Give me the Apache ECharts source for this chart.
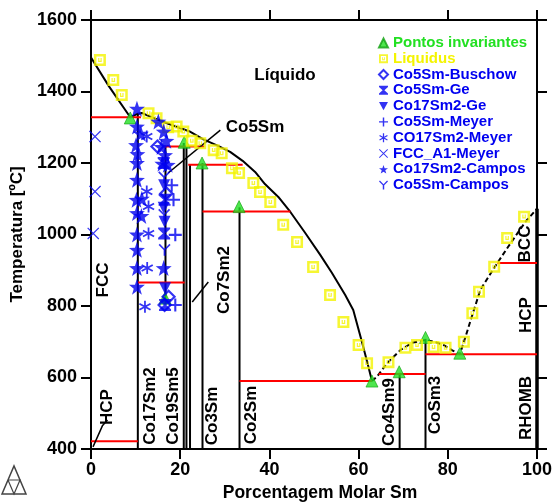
<!DOCTYPE html>
<html><head><meta charset="utf-8">
<script src="https://cdn.jsdelivr.net/npm/echarts@6/dist/echarts.min.js"></script>
<style>html,body{margin:0;padding:0;background:#fff}#c{width:555px;height:503px}</style>
</head><body><div id="c"></div>
<script>
// ---- axis ticks ----
const xTicks = [0, 20, 40, 60, 80, 100];
const yTicks = [400, 600, 800, 1000, 1200, 1400, 1600];

// ---- calculated liquidus (Co side solid, Sm side dashed) ----
const liquidusCo = [[0,1495],[4,1415],[8.8,1328],[10.5,1338],[11.4,1340],[13,1331],[16,1316],[19,1302],[22,1289],[25.2,1266],[28.5,1248],[31.2,1231],[34,1206],[36.8,1175],[39,1141],[42,1105],[44.7,1063],[48,1005],[51.4,943],[54,893],[57,831],[58.8,789],[60.8,697],[62,640],[63,590]];
const liquidusSm = [[63,590],[64.1,602],[66.4,640],[69.4,677],[72,697],[75,705],[77,700],[79,691],[81,676],[82.7,665],[84,715],[85.5,775],[87.3,845],[89.3,885],[91.1,920],[93.5,965],[95.6,1003],[97.5,1037],[100,1072]];

// ---- compound lines: [x, Tlow, Thigh] ----
const compoundLines = [[10.5,400,1338],[16.7,805,1246],[20.8,400,1256],[21.4,400,1246],[22.2,400,1195],[25,400,1200],[33.3,400,1076],[69.2,400,613],[75,400,708]];
const smLine = [100, 400, 1072];
// ---- invariant reactions: [T, x1, x2] ----
const invariantLines = [[1328,0,11.2],[1246,16.5,25.4],[1195,21.8,34],[866,10.5,21],[1064,25,44.7],[422,0,10.5],[590,33.3,63],[610,64.5,75],[665,75,100],[920,91.1,100]];
// ---- label leader lines ----
const leaderCo5Sm = [[17.3,1172],[29.0,1292]];
const leaderCo7Sm2 = [[22.7,811],[26.3,867]];
const leaderHCP = [[0.45,406],[2.6,466],[3.7,481]];

// ---- experimental / invariant points ----
const invariantPoints = [[16.6,822],[8.8,1326],[20.9,1258],[24.9,1200],[33.2,1078],[63,590],[69.1,616],[75,712],[82.7,668]];
const liquidusPoints = [[2.0,1488],[5.0,1432],[6.9,1390],[12.9,1339],[14.7,1325],[17.3,1300],[19.2,1302],[20.7,1288],[22.6,1262],[24.5,1255],[27.5,1236],[29.3,1227],[31.6,1185],[33.2,1172],[36.4,1144],[37.9,1119],[40.2,1091],[43.1,1027],[46.2,979],[49.8,909],[53.6,831],[56.6,755],[60,691],[61.9,640],[66.7,643],[70.5,683],[73.1,691],[76.8,685],[79.5,683],[83.6,700],[85.5,780],[87,840],[90.4,910],[93.3,990],[97.1,1050]];
const co5smBuschow = [[14.9,1246],[16.9,1115],[17.4,826],[16.5,803]];
const co5smGe = [[16.3,1200],[16.5,1097],[16.4,1003],[16.6,803]];
const co17sm2Ge = [[16.4,1138],[16.3,1075],[16.5,1036],[16.6,850]];
const co5smMeyer = [[18.1,1138],[18.5,1097],[18.9,999],[18.9,803]];
const co17sm2Meyer = [[12.5,1274],[12.5,1120],[12.9,1078],[12.9,1003],[12.6,906],[12.1,798]];
const fccMeyer = [[0.9,1274],[0.9,1120],[0.5,1003]];
const co17sm2Campos = [[10.3,1352],[10.3,1302],[11.2,1282],[10.1,1250],[10.4,1225],[10.3,1200],[10.3,1153],[10.2,1097],[11.4,1100],[10.3,1060],[11.3,1052],[10.3,1000],[10.3,957],[10.3,906],[10.3,854],[15.1,1316],[16.3,1288],[16.9,1262],[15.8,1245],[16.6,1222],[16.0,1198],[17.2,1195],[16.3,906]];
const co5smCampos = [[16.4,1160],[16.4,1055],[16.5,957]];

const FONT = '"Liberation Sans", Arial, sans-serif';
const BLUE = '#0000f0';
const GREEN = '#22e022';
const YELLOW = '#f4f400';

const P_STAR = 'path://M5,0L6.18,3.38L9.76,3.45L6.9,5.62L7.94,9.05L5,7L2.06,9.05L3.1,5.62L0.24,3.45L3.82,3.38Z';
const P_AST = 'path://M4.3,0L5.7,0L5.7,10L4.3,10ZM0.97,1.88L9.73,6.88L9.03,8.12L0.27,3.12ZM9.03,1.88L9.73,3.12L0.97,8.12L0.27,6.88Z';
const P_X = 'path://M0.7,0L10,9.3L9.3,10L0,0.7ZM9.3,0L10,0.7L0.7,10L0,9.3Z';
const P_PLUS = 'path://M4.2,0H5.8V4.2H10V5.8H5.8V10H4.2V5.8H0V4.2H4.2Z';
const P_Y = 'path://M1,0L5,4L9,0L10,1L5.8,5.2L5.8,10L4.2,10L4.2,5.2L0,1Z';
const P_HOUR = 'path://M0,0L10,0L10,1.4L6,5L10,8.6L10,10L0,10L0,8.6L4,5L0,1.4Z';
const P_DTRI = 'path://M0,0L10,0L5,9Z';
const P_SQU = 'path://M0,0L10,0L10,10L0,10ZM2.1,2.1L2.1,7.9L7.9,7.9L7.9,2.1ZM3.5,3.3L4.5,3.3L4.5,5.6L5.5,5.6L5.5,3.3L6.5,3.3L6.5,6.6L3.5,6.6Z';

const series = [];
function seg(data, color, width, type) {
  series.push({type:'line', data:data, symbol:'none', silent:true, animation:false,
    lineStyle:{color:color, width:width, type:type||'solid'}, z:2});
}
seg(liquidusCo, '#000', 2);
seg(liquidusSm, '#000', 2, [5,3]);
compoundLines.forEach(c => seg([[c[0],c[1]],[c[0],c[2]]], '#000', 2));
seg([[smLine[0],smLine[1]],[smLine[0],smLine[2]]], '#000', 3.5);
invariantLines.forEach(r => seg([[r[1],r[0]],[r[2],r[0]]], '#ff0000', 2));
seg(leaderCo5Sm, '#000', 1.5);
seg(leaderCo7Sm2, '#000', 1.5);
seg(leaderHCP, '#000', 1.5);

function sc(name, data, symbol, size, style) {
  series.push({type:'scatter', name:name, data:data, symbol:symbol, symbolSize:size,
    itemStyle:style, animation:false, z:3});
}
sc('Pontos invariantes', invariantPoints, 'triangle', 12, {color:GREEN, borderColor:'#10a010', borderWidth:0.8});
sc('Liquidus', liquidusPoints, P_SQU, 12, {color:YELLOW});
sc('Co5Sm-Buschow', co5smBuschow, 'diamond', 12, {color:'rgba(255,255,255,0)', borderColor:BLUE, borderWidth:2.2});
sc('Co5Sm-Ge', co5smGe, P_HOUR, 12, {color:BLUE});
sc('Co17Sm2-Ge', co17sm2Ge, P_DTRI, 12, {color:BLUE});
sc('Co5Sm-Meyer', co5smMeyer, P_PLUS, 13, {color:BLUE});
sc('CO17Sm2-Meyer', co17sm2Meyer, P_AST, 12, {color:BLUE});
sc('FCC_A1-Meyer', fccMeyer, P_X, 12, {color:BLUE});
sc('Co17Sm2-Campos', co17sm2Campos, P_STAR, 16, {color:BLUE});
sc('Co5Sm-Campos', co5smCampos, P_Y, 12, {color:BLUE});

const legendNames = ['Pontos invariantes','Liquidus','Co5Sm-Buschow','Co5Sm-Ge','Co17Sm2-Ge','Co5Sm-Meyer','CO17Sm2-Meyer','FCC_A1-Meyer','Co17Sm2-Campos','Co5Sm-Campos'];
const legendIcons = ['triangle',P_SQU,'diamond',P_HOUR,P_DTRI,P_PLUS,P_AST,P_X,P_STAR,P_Y];
const legendColors = [GREEN, YELLOW, BLUE, BLUE, BLUE, BLUE, BLUE, BLUE, BLUE, BLUE];

function lbl(text, x, y, rot, size) {
  return {type:'text', x:x, y:y, rotation:rot||0, z:10,
    style:{text:text, fill:'#000', align:'center', verticalAlign:'middle',
      font:'bold ' + (size||17) + 'px ' + FONT}};
}
const R = Math.PI/2;

const axisCommon = {
  type:'value',
  axisLine:{show:true, onZero:false, lineStyle:{color:'#000', width:2}},
  axisTick:{show:true, inside:false, length:10, lineStyle:{color:'#000', width:2}},
  splitLine:{show:false}
};
const numFmt = v => String(v);

const chart = echarts.init(document.getElementById('c'), null, {renderer:'canvas'});
chart.setOption({
  animation:false,
  backgroundColor:'#fff',
  grid:{left:91, right:18, top:20, bottom:54, containLabel:false, outerBoundsMode:'none'},
  xAxis:[
    Object.assign({}, axisCommon, {min:xTicks[0], max:xTicks[xTicks.length-1], interval:xTicks[1]-xTicks[0], position:'bottom',
      axisLabel:{margin:12, color:'#000', fontSize:18, fontWeight:'bold', fontFamily:FONT, formatter:numFmt},
      name:'Porcentagem Molar Sm', nameLocation:'middle', nameGap:32,
      nameTextStyle:{color:'#000', fontSize:17.5, fontWeight:'bold', fontFamily:FONT, padding:[0,0,0,12]}}),
    Object.assign({}, axisCommon, {min:xTicks[0], max:xTicks[xTicks.length-1], interval:xTicks[1]-xTicks[0], position:'top', axisLabel:{show:false}})
  ],
  yAxis:[
    Object.assign({}, axisCommon, {min:yTicks[0], max:yTicks[yTicks.length-1], interval:yTicks[1]-yTicks[0], position:'left',
      axisLabel:{margin:14, color:'#000', fontSize:18, fontWeight:'bold', fontFamily:FONT, formatter:numFmt},
      name:'Temperatura [ºC]', nameLocation:'middle', nameGap:64,
      nameTextStyle:{color:'#000', fontSize:17, fontWeight:'bold', fontFamily:FONT}}),
    Object.assign({}, axisCommon, {min:yTicks[0], max:yTicks[yTicks.length-1], interval:yTicks[1]-yTicks[0], position:'right', axisLabel:{show:false}})
  ],
  legend:{
    orient:'vertical', left:373, top:30, itemGap:0, itemWidth:9, itemHeight:9,
    selectedMode:false,
    data: legendNames.map((n,i)=>({name:n, icon:legendIcons[i],
      textStyle:{color:legendColors[i], fontSize:15, fontWeight:'bold', fontFamily:FONT, lineHeight:15.8}})),
    textStyle:{fontSize:15, fontWeight:'bold', fontFamily:FONT, lineHeight:15.8}
  },
  series: series,
  graphic:[
    lbl('Líquido', 285, 75, 0, 17),
    lbl('Co5Sm', 255, 127, 0, 17),
    lbl('FCC', 103, 280, R),
    lbl('Co7Sm2', 224, 280, R),
    lbl('HCP', 107, 407, R),
    lbl('Co17Sm2', 150, 406, R),
    lbl('Co19Sm5', 173.5, 406, R),
    lbl('Co3Sm', 212.5, 416, R),
    lbl('Co2Sm', 251, 415, R),
    lbl('Co4Sm9', 389, 412, R),
    lbl('CoSm3', 435, 405, R),
    lbl('RHOMB', 526.5, 408, R),
    lbl('HCP', 526, 315, R),
    lbl('BCC', 525, 244, R),
    {type:'polygon', shape:{points:[[2,494],[26,494],[14,466]]}, style:{fill:'none', stroke:'#444', lineWidth:1.5}},
    {type:'polyline', shape:{points:[[8,480],[20,480],[14,494],[8,480]]}, style:{fill:'none', stroke:'#444', lineWidth:1.2}}
  ]
});
</script></body></html>
